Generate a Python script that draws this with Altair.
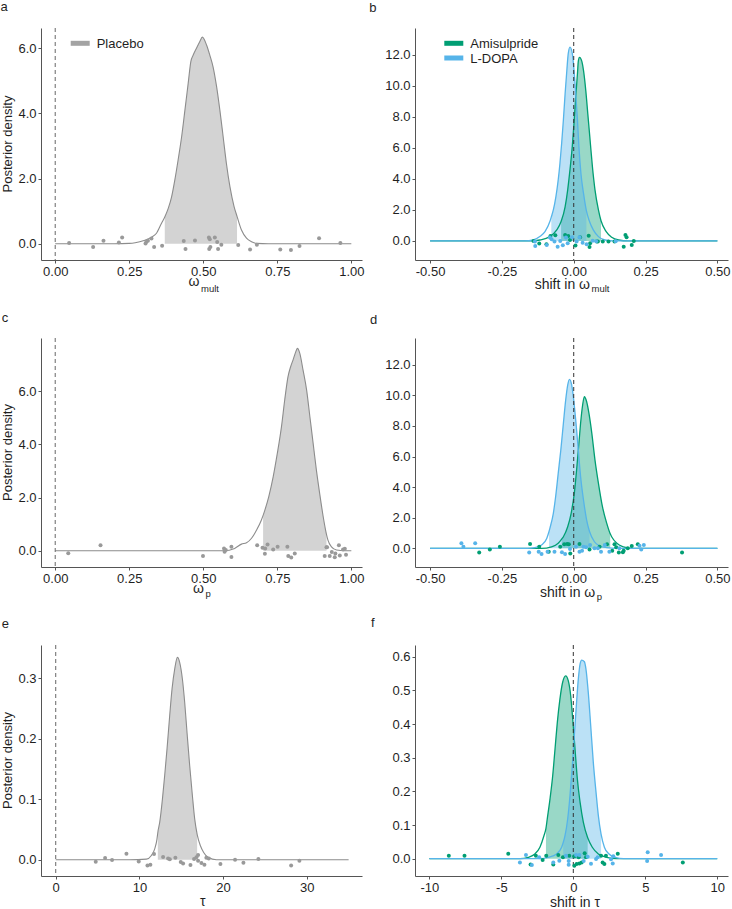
import altair as alt
import pandas as pd

FONT = "Liberation Sans"
INK = "#1f1f1f"
AXIS_INK = "#555555"
GREY_LINE = "#8c8c8c"
GREY_FILL = "#d3d3d3"
GREY_DOT = "#999999"
GREY_KEY = "#a3a3a3"
GREEN = "#009E73"
BLUE = "#56B4E9"

# ---------------- a: omega_mult, placebo ----------------
A_CURVE = [(0.0, 0), (0.20, 0), (0.25, 0.01), (0.27, 0.03), (0.30, 0.10), (0.325, 0.20),
           (0.342, 0.32), (0.359, 0.63), (0.370, 0.82), (0.382, 1.09), (0.393, 1.44),
           (0.404, 1.96), (0.415, 2.57), (0.427, 3.29), (0.438, 4.10), (0.449, 4.92),
           (0.458, 5.59), (0.466, 5.79), (0.477, 6.00), (0.488, 6.20), (0.497, 6.34),
           (0.511, 6.10), (0.522, 5.79), (0.533, 5.43), (0.545, 4.82), (0.556, 4.10),
           (0.567, 3.29), (0.578, 2.47), (0.590, 1.75), (0.604, 1.14), (0.614, 0.84),
           (0.629, 0.42), (0.646, 0.17), (0.663, 0.06), (0.680, 0.01), (0.720, 0), (1.0, 0)]
A_HDI = (0.370, 0.614)
A_DOTS = [(0.047, 0.02), (0.128, -0.10), (0.163, 0.09), (0.215, 0.04), (0.226, 0.19),
          (0.305, 0.01), (0.308, 0.06), (0.313, 0.09), (0.325, 0.16), (0.334, -0.10),
          (0.361, -0.06), (0.434, 0.08), (0.440, -0.16), (0.472, 0.10), (0.519, 0.19),
          (0.522, 0.14), (0.524, -0.10), (0.520, -0.16), (0.539, 0.19), (0.547, 0.05),
          (0.550, -0.16), (0.561, -0.03), (0.618, -0.04), (0.658, -0.18), (0.681, -0.03),
          (0.760, -0.18), (0.796, -0.19), (0.825, -0.07), (0.891, 0.17), (0.963, 0.02)]

# ---------------- b: shift in omega_mult ----------------
B_AMI_CURVE = [(-0.5, 0), (-0.15, 0), (-0.118, 0.06), (-0.083, 0.28), (-0.059, 0.71),
               (-0.044, 1.25), (-0.030, 2.2), (-0.021, 3.3), (-0.013, 4.6), (-0.005, 6.1),
               (0.001, 7.6), (0.007, 9.3), (0.013, 10.8), (0.016, 11.6), (0.020, 11.85),
               (0.028, 11.6), (0.034, 11.0), (0.042, 9.7), (0.049, 8.2), (0.057, 6.5),
               (0.065, 4.8), (0.074, 3.3), (0.086, 2.0), (0.095, 1.3), (0.113, 0.6),
               (0.132, 0.24), (0.156, 0.06), (0.19, 0), (0.5, 0)]
B_AMI_HDI = (-0.044, 0.095)
B_LDOPA_CURVE = [(-0.5, 0), (-0.17, 0), (-0.141, 0.06), (-0.118, 0.28), (-0.100, 0.6),
                 (-0.083, 1.25), (-0.078, 1.55), (-0.071, 2.0), (-0.062, 2.86), (-0.054, 3.94),
                 (-0.048, 5.0), (-0.042, 6.3), (-0.036, 7.8), (-0.030, 9.5), (-0.024, 11.0),
                 (-0.019, 12.1), (-0.013, 12.5), (-0.005, 12.1), (0.001, 11.0), (0.007, 9.5),
                 (0.013, 7.8), (0.018, 6.1), (0.025, 4.37), (0.034, 3.08), (0.044, 1.95),
                 (0.055, 1.25), (0.068, 0.71), (0.086, 0.28), (0.109, 0.06), (0.14, 0), (0.5, 0)]
B_LDOPA_HDI = (-0.078, 0.044)
B_AMI_DOTS = [(-0.140, 0.0), (-0.120, -0.17), (-0.095, -0.22), (-0.081, 0.32), (-0.064, 0.37),
              (-0.030, 0.39), (-0.019, 0.32), (-0.013, 0.06), (0.006, -0.30), (0.022, 0.24),
              (0.052, 0.34), (0.055, -0.39), (0.057, -0.15), (0.080, -0.04), (0.084, -0.04),
              (0.101, -0.04), (0.121, -0.04), (0.142, -0.04), (0.180, 0.39), (0.184, 0.24),
              (0.174, -0.37), (0.202, -0.26), (0.209, 0.0)]
B_LDOPA_DOTS = [(-0.135, -0.04), (-0.134, -0.32), (-0.094, -0.26), (-0.083, 0.22), (-0.077, 0.11),
                (-0.067, -0.04), (-0.056, -0.37), (-0.047, 0.0), (-0.038, -0.28), (-0.027, 0.22),
                (-0.021, -0.15), (-0.006, 0.24), (0.010, -0.04), (0.020, 0.24), (0.031, -0.11),
                (0.045, -0.22), (0.066, 0.02), (0.078, -0.02), (0.146, -0.02)]

# ---------------- c: omega_p, placebo ----------------
C_CURVE = [(0.0, 0), (0.57, 0), (0.606, 0.09), (0.629, 0.25), (0.646, 0.30), (0.663, 0.47),
           (0.680, 0.78), (0.696, 1.15), (0.702, 1.33), (0.708, 1.53), (0.721, 2.03),
           (0.736, 2.78), (0.750, 3.66), (0.764, 4.66), (0.775, 5.67), (0.786, 6.54),
           (0.795, 6.92), (0.803, 7.17), (0.811, 7.44), (0.818, 7.61), (0.826, 7.42),
           (0.837, 6.79), (0.849, 6.04), (0.860, 5.04), (0.871, 4.04), (0.882, 3.03),
           (0.893, 2.16), (0.905, 1.28), (0.913, 0.78), (0.916, 0.62), (0.921, 0.40),
           (0.933, 0.15), (0.950, 0.03), (0.978, 0), (1.0, 0)]
C_HDI = (0.702, 0.916)
C_DOTS = [(0.044, -0.09), (0.153, 0.21), (0.499, -0.20), (0.570, 0.09), (0.572, -0.04),
          (0.576, 0.03), (0.595, 0.15), (0.595, -0.23), (0.682, 0.21), (0.700, 0.11),
          (0.708, -0.11), (0.709, 0.09), (0.717, 0.24), (0.736, 0.05), (0.751, 0.15),
          (0.784, 0.15), (0.787, -0.20), (0.797, -0.25), (0.809, -0.10), (0.916, 0.13),
          (0.910, -0.20), (0.918, 0.13), (0.927, -0.20), (0.934, -0.05), (0.944, -0.24),
          (0.946, -0.10), (0.958, 0.21), (0.961, -0.18), (0.972, 0.05), (0.978, 0.08),
          (0.982, -0.15)]

# ---------------- d: shift in omega_p ----------------
D_AMI_CURVE = [(-0.5, 0), (-0.112, 0), (-0.077, 0.10), (-0.054, 0.33), (-0.042, 0.60),
               (-0.036, 0.76), (-0.021, 1.41), (-0.009, 2.29), (0.002, 3.59), (0.010, 5.12),
               (0.018, 6.86), (0.025, 8.39), (0.031, 9.37), (0.037, 9.91), (0.045, 9.58),
               (0.053, 8.82), (0.063, 7.52), (0.074, 5.77), (0.086, 4.25), (0.100, 2.72),
               (0.115, 1.63), (0.127, 0.95), (0.132, 0.76), (0.150, 0.33), (0.173, 0.10),
               (0.202, 0), (0.5, 0)]
D_AMI_HDI = (-0.042, 0.127)
D_LDOPA_CURVE = [(-0.5, 0), (-0.16, 0), (-0.135, 0.04), (-0.112, 0.22), (-0.094, 0.65),
                 (-0.086, 1.10), (-0.083, 1.31), (-0.071, 2.29), (-0.063, 3.37), (-0.054, 4.90),
                 (-0.045, 6.42), (-0.036, 8.17), (-0.028, 9.69), (-0.021, 10.67), (-0.015, 11.05),
                 (-0.007, 10.67), (0.0, 9.69), (0.008, 8.17), (0.016, 6.42), (0.024, 4.68),
                 (0.034, 3.16), (0.045, 1.85), (0.055, 1.10), (0.072, 0.43), (0.092, 0.15),
                 (0.115, 0.04), (0.15, 0), (0.5, 0)]
D_LDOPA_HDI = (-0.086, 0.055)
D_AMI_DOTS = [(-0.329, -0.28), (-0.292, -0.07), (-0.257, 0.11), (-0.152, 0.28), (-0.120, 0.11),
              (-0.087, -0.22), (-0.047, 0.11), (-0.033, 0.26), (-0.023, 0.28), (-0.017, 0.26),
              (-0.012, -0.33), (0.020, 0.28), (0.055, -0.07), (0.090, 0.11), (0.116, 0.26),
              (0.134, -0.15), (0.142, 0.26), (0.148, 0.07), (0.157, -0.28), (0.171, -0.26),
              (0.174, -0.15), (0.188, 0.0), (0.202, 0.15), (0.223, 0.26), (0.377, -0.28)]
D_LDOPA_DOTS = [(-0.391, 0.33), (-0.384, 0.11), (-0.343, 0.33), (-0.155, -0.28), (-0.122, -0.22),
                (-0.112, -0.37), (-0.091, -0.22), (-0.067, -0.22), (-0.041, -0.26), (-0.030, -0.37),
                (-0.013, -0.04), (0.008, 0.11), (0.020, -0.22), (0.029, -0.15), (0.034, 0.11),
                (0.043, 0.07), (0.057, 0.22), (0.072, 0.0), (0.084, 0.0), (0.095, -0.22),
                (0.108, 0.22), (0.124, -0.22), (0.159, 0.0), (0.229, 0.17), (0.235, -0.07),
                (0.244, 0.22)]

# ---------------- e: tau, placebo ----------------
E_CURVE = [(0.0, 0), (8.8, 0), (10.84, 0.001), (11.43, 0.007), (11.83, 0.018), (12.10, 0.034),
           (12.20, 0.045), (12.43, 0.062), (12.75, 0.100), (13.02, 0.139), (13.30, 0.183),
           (13.62, 0.238), (13.90, 0.282), (14.22, 0.315), (14.54, 0.334), (14.81, 0.326),
           (15.14, 0.298), (15.41, 0.260), (15.69, 0.210), (16.01, 0.155), (16.33, 0.106),
           (16.61, 0.067), (16.90, 0.042), (17.29, 0.023), (17.68, 0.012), (18.20, 0.004),
           (19.20, 0), (35.0, 0)]
E_HDI = (12.20, 16.90)
E_DOTS = [(4.78, -0.0033), (5.90, 0.0028), (6.73, -0.0006), (8.45, 0.0099), (9.92, -0.0028),
          (10.96, -0.0094), (11.31, -0.0083), (11.75, 0.0094), (12.83, 0.0044), (13.43, 0.0022),
          (13.63, 0.0006), (14.30, 0.0033), (14.94, -0.0039), (15.22, -0.0061), (16.10, -0.0088),
          (16.53, 0.0011), (16.81, 0.0039), (17.01, -0.0017), (17.01, 0.0077), (17.41, -0.0055),
          (17.77, -0.0083), (18.00, 0.0033), (18.29, 0.0022), (19.68, -0.0072), (21.43, 0.0),
          (22.43, -0.0050), (24.22, 0.0011), (28.13, -0.0094), (29.12, -0.0017)]

# ---------------- f: shift in tau ----------------
F_AMI_CURVE = [(-10.0, 0), (-3.7, 0), (-3.13, 0.004), (-2.67, 0.014), (-2.32, 0.034),
               (-2.04, 0.068), (-1.90, 0.090), (-1.81, 0.118), (-1.62, 0.177), (-1.43, 0.247),
               (-1.27, 0.326), (-1.11, 0.405), (-0.93, 0.474), (-0.74, 0.524), (-0.53, 0.543),
               (-0.35, 0.529), (-0.18, 0.484), (-0.04, 0.415), (0.12, 0.326), (0.28, 0.237),
               (0.47, 0.168), (0.70, 0.108), (1.00, 0.062), (1.32, 0.034), (1.74, 0.014),
               (2.32, 0.004), (3.0, 0), (10.0, 0)]
F_AMI_HDI = (-1.90, 1.00)
F_LDOPA_CURVE = [(-10.0, 0), (-2.2, 0), (-1.74, 0.004), (-1.16, 0.014), (-0.81, 0.034),
                 (-0.70, 0.048), (-0.58, 0.068), (-0.39, 0.118), (-0.23, 0.187), (-0.07, 0.276),
                 (0.07, 0.365), (0.21, 0.454), (0.35, 0.534), (0.47, 0.578), (0.58, 0.590),
                 (0.77, 0.585), (0.88, 0.563), (1.04, 0.494), (1.21, 0.395), (1.39, 0.286),
                 (1.58, 0.197), (1.74, 0.128), (1.93, 0.073), (2.16, 0.034), (2.48, 0.014),
                 (2.90, 0.004), (3.5, 0), (10.0, 0)]
F_LDOPA_HDI = (-0.70, 1.93)
F_AMI_DOTS = [(-8.65, 0.009), (-7.56, 0.009), (-4.52, 0.015), (-2.97, -0.017), (-2.60, 0.009),
              (-2.13, -0.004), (-1.88, 0.009), (-1.39, -0.017), (-1.04, 0.011), (-0.72, 0.004),
              (-0.28, 0.009), (0.07, 0.007), (0.37, 0.004), (0.07, -0.021), (0.23, -0.016),
              (0.42, -0.014), (0.58, -0.011), (0.79, 0.016), (0.88, 0.004), (1.93, 0.009),
              (2.04, -0.011), (2.16, -0.016), (2.27, 0.009), (3.09, 0.015), (7.61, -0.011)]
F_LDOPA_DOTS = [(-3.71, -0.011), (-3.29, 0.011), (-2.88, -0.019), (-2.37, 0.004), (-1.39, -0.011),
                (-0.97, -0.006), (-0.51, 0.009), (-0.32, -0.007), (-0.32, -0.018), (0.19, 0.011),
                (0.42, 0.011), (0.72, -0.007), (1.00, 0.006), (1.23, -0.015), (1.58, -0.001),
                (1.69, 0.004), (2.62, -0.002), (2.74, -0.014), (2.78, 0.007), (5.17, 0.019),
                (5.13, -0.007), (6.10, 0.011)]

GROUP_NAMES = ["Placebo", "Amisulpride", "L-DOPA"]

LEFT_W, RIGHT_W = 321, 313
ROW_H = [232, 229, 231]
TITLE_SIZE = 14
SUB_SIZE = 9.5
MINUS_FIX = "replace(datum.label, '\u2212', '-')"


def frame(pairs):
    return pd.DataFrame({"x": [p[0] for p in pairs], "y": [p[1] for p in pairs]})


def one_row():
    return pd.DataFrame({"k": [0]})


def label(text, x, y, size=13, align="left", angle=0, color=INK):
    return alt.Chart(pd.DataFrame({"t": [text]})).mark_text(
        font=FONT, fontSize=size, align=align, baseline="alphabetic", angle=angle, color=color
    ).encode(text="t:N", x=alt.value(x), y=alt.value(y))


def xtitle(main, sub, x, y, sub_drop):
    """Axis title with a subscript: main text ends at x, subscript starts right after."""
    return [label(main, x, y, size=TITLE_SIZE, align="right"),
            label(sub, x + 1.5, y + sub_drop, size=SUB_SIZE)]


def key(text, color, x, y):
    swatch = alt.Chart(one_row()).mark_rule(color=color, strokeWidth=5).encode(
        x=alt.value(x), x2=alt.value(x + 19), y=alt.value(y))
    return [swatch, label(text, x + 26, y + 4.5)]


def panel(series, xdom, ydom, xticks, xfmt, yticks, width, height, extras, rule_color):
    xs = alt.X("x:Q", scale=alt.Scale(domain=xdom, nice=False, zero=False),
               axis=alt.Axis(values=xticks, format=xfmt, title=None, labelExpr=MINUS_FIX))
    ys = alt.Y("y:Q", scale=alt.Scale(domain=ydom, nice=False, zero=False),
               axis=alt.Axis(values=yticks, format=".1f", title=None), stack=None)
    areas, lines, dots = [], [], []
    for s in series:
        cdf = frame(s["curve"])
        lo, hi = s["hdi"]
        adf = cdf[(cdf.x >= lo - 1e-9) & (cdf.x <= hi + 1e-9)]
        areas.append(alt.Chart(adf).mark_area(
            color=s["fill"], opacity=s["fill_opacity"], interpolate="monotone"
        ).encode(x=xs, y=ys, y2=alt.datum(0)))
        lines.append(alt.Chart(cdf).mark_line(
            color=s["line"], strokeWidth=s["line_width"], interpolate="monotone"
        ).encode(x=xs, y=ys))
        dots.append(alt.Chart(frame(s["dots"])).mark_circle(
            color=s["dot"], opacity=1, size=16
        ).encode(x=xs, y=ys))
    zero = alt.Chart(one_row()).mark_rule(
        color=rule_color, strokeWidth=1, strokeDash=[4, 3]
    ).encode(x=alt.datum(0))
    layers = areas + lines + [zero] + dots + extras
    return alt.layer(*layers).properties(width=width, height=height)


def grey(curve, hdi, dots):
    return {"curve": curve, "hdi": hdi, "dots": dots, "fill": GREY_FILL, "fill_opacity": 1,
            "line": GREY_LINE, "line_width": 1.1, "dot": GREY_DOT}


def tinted(curve, hdi, dots, color):
    return {"curve": curve, "hdi": hdi, "dots": dots, "fill": color, "fill_opacity": 0.4,
            "line": color, "line_width": 1.3, "dot": color}


def ytitle(height):
    return label("Posterior density", -29.5, height / 2, align="center", angle=270)


# anchor that pins the top-left corner of the whole figure
anchor = alt.Chart(one_row()).mark_rule(opacity=0).encode(
    x=alt.value(-41), x2=alt.value(-41), y=alt.value(-28), y2=alt.value(-28))

h1, h2, h3 = ROW_H

pa = panel([grey(A_CURVE, A_HDI, A_DOTS)], [-0.048, 1.036], [-0.50, 6.62],
           [0, 0.25, 0.5, 0.75, 1.0], ".2f", [0, 2, 4, 6], LEFT_W, h1,
           [anchor, label("a", -40.5, -17), ytitle(h1)]
           + xtitle("ω", "mult", 158.5, h1 + 26, 5.5)
           + key(GROUP_NAMES[0], GREY_KEY, 29.7, 15.3), "#666666")

pb = panel([tinted(B_AMI_CURVE, B_AMI_HDI, B_AMI_DOTS, GREEN),
            tinted(B_LDOPA_CURVE, B_LDOPA_HDI, B_LDOPA_DOTS, BLUE)],
           [-0.5525, 0.537], [-1.23, 13.74], [-0.5, -0.25, 0, 0.25, 0.5], ".2f",
           [0, 2, 4, 6, 8, 10, 12], RIGHT_W, h1,
           [label("b", -45.7, -16.3)]
           + xtitle("shift in ω", "mult", 175, h1 + 29, 3)
           + key(GROUP_NAMES[1], GREEN, 29.3, 15.3) + key(GROUP_NAMES[2], BLUE, 29.3, 30),
           "#333333")

pc = panel([grey(C_CURVE, C_HDI, C_DOTS)], [-0.048, 1.036], [-0.61, 8.0],
           [0, 0.25, 0.5, 0.75, 1.0], ".2f", [0, 2, 4, 6], LEFT_W, h2,
           [label("c", -39.3, -16.3), ytitle(h2)]
           + xtitle("ω", "p", 163, h2 + 26.3, 3.7),
           "#666666")

pd_ = panel([tinted(D_AMI_CURVE, D_AMI_HDI, D_AMI_DOTS, GREEN),
             tinted(D_LDOPA_CURVE, D_LDOPA_HDI, D_LDOPA_DOTS, BLUE)],
            [-0.5525, 0.537], [-1.22, 13.75], [-0.5, -0.25, 0, 0.25, 0.5], ".2f",
            [0, 2, 4, 6, 8, 10, 12], RIGHT_W, h2,
            [label("d", -45, -14)]
            + xtitle("shift in ω", "p", 180.3, h2 + 29.5, 3),
            "#333333")

pe = panel([grey(E_CURVE, E_HDI, E_DOTS)], [-1.76, 36.6], [-0.0269, 0.3545],
           [0, 10, 20, 30], "d", [0, 0.1, 0.2, 0.3], LEFT_W, h3,
           [label("e", -39.3, -17), ytitle(h3),
            label("τ", 161.7, h3 + 29.7, size=TITLE_SIZE, align="center")],
           "#666666")

pf = panel([tinted(F_AMI_CURVE, F_AMI_HDI, F_AMI_DOTS, GREEN),
            tinted(F_LDOPA_CURVE, F_LDOPA_HDI, F_LDOPA_DOTS, BLUE)],
           [-11.0, 10.75], [-0.0514, 0.6347], [-10, -5, 0, 5, 10], "d",
           [0, 0.1, 0.2, 0.3, 0.4, 0.5, 0.6], RIGHT_W, h3,
           [label("f", -44, -17.7),
            label("shift in τ", 160, h3 + 31, size=TITLE_SIZE, align="center")],
           "#333333")

chart = alt.concat(
    pa, pb, pc, pd_, pe, pf, columns=2, spacing={"row": 78, "column": 53},
    bounds="flush", align="each", padding=0, background="white"
).configure_view(stroke=None).configure_axis(
    grid=False, domainColor=AXIS_INK, domainWidth=1, tickColor=AXIS_INK, tickSize=3,
    tickWidth=1, labelFont=FONT, labelFontSize=13, labelColor=INK, labelPadding=2,
    labelFlush=False, labelOverlap=False
)

chart.save("out.html", embed_options={"renderer": "svg", "actions": False})
